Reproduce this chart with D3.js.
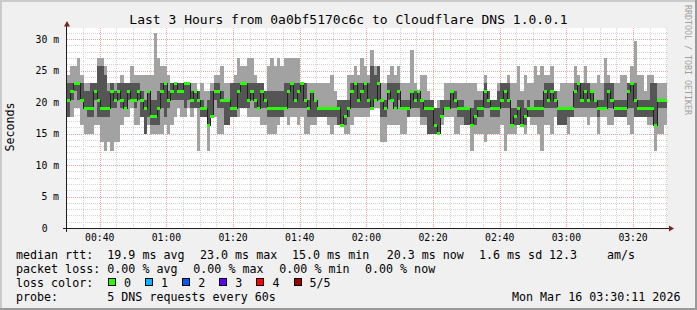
<!DOCTYPE html>
<html>
<head>
<meta charset="utf-8">
<script src="https://cdn.jsdelivr.net/npm/d3@7/dist/d3.min.js"></script>
<style>
  body { margin: 0; background: #f0f0f0; }
  svg { display: block; }
  text { font-family: "DejaVu Sans Mono", monospace; fill: #000; }
</style>
</head>
<body>
<svg id="chart" width="697" height="310"></svg>
<script>
// one value per 60s step, sorted pings in ms (5 pings per step)
var rttMax = [
  24.3,25.7,25.7,27.0,24.3,23.0,23.0,23.0,23.0,27.0,27.0,25.7,23.0,23.0,23.0,
  23.0,24.3,23.0,23.0,25.7,24.3,24.3,24.3,24.3,24.3,24.3,31.0,27.0,25.7,25.7,
  24.3,23.0,23.0,23.0,23.0,23.0,23.0,23.0,23.0,21.7,23.0,21.7,21.7,23.0,24.3,
  24.3,25.7,23.0,23.0,23.0,24.3,27.0,25.7,25.7,27.0,27.0,24.3,23.0,23.0,21.7,
  25.7,27.0,25.7,27.0,25.7,27.0,27.0,27.0,27.0,27.0,23.0,23.0,23.0,23.0,23.0,
  23.0,23.0,23.0,23.0,24.3,21.7,20.3,20.3,20.3,24.3,24.3,25.7,24.3,27.0,25.7,
  24.3,28.3,25.7,25.7,23.0,23.0,24.3,25.7,24.3,25.7,23.0,23.0,23.0,28.3,23.0,
  21.7,24.3,24.3,21.7,20.3,19.0,20.3,20.3,23.0,23.0,23.0,23.0,23.0,23.0,23.0,
  23.0,23.0,23.0,21.7,21.7,24.3,21.7,20.3,20.3,23.0,23.0,23.0,24.3,23.0,23.0,
  25.7,21.7,24.3,23.0,23.0,25.7,24.3,25.7,24.3,24.3,25.7,21.7,21.7,23.0,23.0,
  23.0,23.0,25.7,24.3,23.0,25.7,23.0,23.0,23.0,24.3,23.0,27.0,24.3,23.0,23.0,
  23.0,24.3,24.3,23.0,25.7,29.7,24.3,24.3,21.7,24.3,24.3,23.0,23.0,23.0,23.0
];
var rttP4 = [
  23.0,23.0,23.0,23.0,23.0,21.7,21.7,23.0,23.0,25.7,25.7,24.3,21.7,23.0,21.7,
  23.0,23.0,23.0,23.0,23.0,23.0,23.0,21.7,20.3,21.7,20.3,20.3,21.7,23.0,23.0,
  21.7,23.0,23.0,23.0,23.0,23.0,23.0,21.7,21.7,21.7,20.3,19.0,20.3,21.7,23.0,
  23.0,21.7,20.3,20.3,23.0,23.0,23.0,23.0,23.0,23.0,23.0,23.0,23.0,23.0,21.7,
  21.7,21.7,21.7,21.7,21.7,23.0,23.0,23.0,23.0,23.0,23.0,23.0,20.3,21.7,20.3,
  19.0,19.0,19.0,19.0,19.0,19.0,20.3,20.3,20.3,20.3,23.0,23.0,23.0,23.0,23.0,
  23.0,25.7,24.3,25.7,20.3,20.3,23.0,23.0,23.0,23.0,20.3,20.3,20.3,21.7,21.7,
  21.7,20.3,20.3,20.3,20.3,19.0,19.0,20.3,20.3,20.3,21.7,21.7,20.3,20.3,19.0,
  19.0,19.0,20.3,20.3,20.3,23.0,21.7,20.3,20.3,21.7,23.0,23.0,23.0,19.0,19.0,
  20.3,20.3,19.0,20.3,19.0,20.3,20.3,20.3,23.0,23.0,23.0,21.7,19.0,19.0,19.0,
  19.0,19.0,23.0,23.0,23.0,23.0,23.0,21.7,20.3,20.3,20.3,23.0,23.0,23.0,20.3,
  20.3,20.3,20.3,23.0,23.0,23.0,20.3,20.3,20.3,20.3,23.0,23.0,20.3,20.3,20.3
];
var rttMedian = [
  20.3,21.7,23.0,23.0,20.3,19.0,19.0,19.0,21.7,20.3,19.0,19.0,19.0,21.7,20.3,
  21.7,20.3,19.0,21.7,20.3,20.3,21.7,20.3,19.0,21.7,17.7,17.7,19.0,21.7,23.0,
  20.3,21.7,23.0,21.7,21.7,23.0,23.0,20.3,21.7,20.3,19.0,19.0,16.3,17.7,21.7,
  21.7,20.3,20.3,20.3,19.0,19.0,21.7,23.0,23.0,20.3,21.7,20.3,19.0,21.7,20.3,
  19.0,19.0,19.0,19.0,19.0,19.0,21.7,23.0,20.3,21.7,23.0,20.3,19.0,21.7,20.3,
  19.0,19.0,19.0,19.0,19.0,19.0,19.0,16.3,17.7,19.0,21.7,23.0,20.3,21.7,23.0,
  20.3,19.0,20.3,23.0,20.3,19.0,21.7,20.3,19.0,21.7,19.0,19.0,19.0,21.7,20.3,
  21.7,20.3,19.0,19.0,19.0,16.3,15.0,17.7,19.0,19.0,21.7,20.3,19.0,19.0,19.0,
  19.0,16.3,17.7,19.0,19.0,21.7,20.3,19.0,19.0,19.0,20.3,21.7,20.3,16.3,17.7,
  19.0,16.3,17.7,19.0,19.0,19.0,19.0,19.0,21.7,20.3,21.7,20.3,19.0,19.0,19.0,
  19.0,19.0,21.7,23.0,20.3,21.7,20.3,21.7,20.3,19.0,19.0,19.0,21.7,20.3,19.0,
  19.0,19.0,19.0,21.7,23.0,20.3,19.0,19.0,19.0,19.0,19.0,16.3,20.3,20.3,20.3
];
var rttP2 = [
  17.7,20.3,21.7,20.3,20.3,19.0,17.7,17.7,20.3,17.7,17.7,17.7,17.7,19.0,19.0,
  20.3,19.0,19.0,20.3,20.3,19.0,20.3,17.7,15.0,17.7,16.3,16.3,16.3,19.0,17.7,
  19.0,20.3,20.3,20.3,20.3,19.0,20.3,19.0,19.0,19.0,17.7,17.7,16.3,17.7,20.3,
  19.0,19.0,16.3,16.3,17.7,17.7,19.0,19.0,19.0,19.0,20.3,19.0,19.0,19.0,19.0,
  17.7,17.7,17.7,17.7,17.7,19.0,19.0,19.0,19.0,19.0,19.0,19.0,17.7,17.7,17.7,
  17.7,17.7,17.7,17.7,17.7,17.7,16.3,16.3,16.3,17.7,19.0,19.0,19.0,19.0,19.0,
  19.0,19.0,20.3,20.3,17.7,17.7,20.3,20.3,19.0,20.3,19.0,19.0,17.7,19.0,19.0,
  19.0,17.7,17.7,15.0,15.0,15.0,15.0,17.7,19.0,19.0,19.0,19.0,17.7,17.7,16.3,
  16.3,16.3,16.3,17.7,17.7,19.0,19.0,17.7,17.7,17.7,19.0,19.0,19.0,16.3,16.3,
  16.3,16.3,16.3,17.7,17.7,17.7,17.7,17.7,19.0,19.0,19.0,19.0,16.3,16.3,16.3,
  17.7,17.7,19.0,19.0,19.0,19.0,19.0,19.0,19.0,17.7,19.0,19.0,19.0,19.0,17.7,
  17.7,17.7,17.7,19.0,19.0,17.7,17.7,17.7,17.7,17.7,17.7,16.3,19.0,19.0,19.0
];
var rttMin = [
  17.7,17.7,19.0,19.0,16.3,15.0,15.0,15.0,16.3,16.3,13.7,12.3,13.7,12.3,13.7,
  13.7,16.3,17.7,17.7,19.0,16.3,16.3,17.7,15.0,16.3,15.0,15.0,15.0,15.0,16.3,
  15.0,16.3,17.7,19.0,17.7,17.7,19.0,17.7,19.0,12.3,17.7,17.7,12.3,17.7,17.7,
  15.0,15.0,16.3,16.3,17.7,17.7,17.7,19.0,19.0,17.7,17.7,17.7,17.7,16.3,16.3,
  15.0,15.0,15.0,16.3,17.7,17.7,16.3,17.7,17.7,16.3,17.7,15.0,15.0,16.3,16.3,
  17.7,17.7,17.7,16.3,15.0,16.3,16.3,16.3,15.0,15.0,16.3,17.7,17.7,17.7,17.7,
  17.7,19.0,19.0,19.0,13.7,13.7,16.3,16.3,16.3,16.3,15.0,15.0,17.7,17.7,17.7,
  17.7,16.3,16.3,15.0,15.0,15.0,15.0,16.3,17.7,17.7,17.7,15.0,15.0,16.3,16.3,
  16.3,12.3,15.0,15.0,15.0,13.7,15.0,15.0,15.0,15.0,16.3,12.3,15.0,15.0,15.0,
  16.3,16.3,15.0,17.7,16.3,16.3,15.0,12.3,16.3,16.3,15.0,17.7,16.3,16.3,16.3,
  15.0,17.7,17.7,17.7,17.7,17.7,16.3,17.7,17.7,15.0,17.7,17.7,16.3,16.3,17.7,
  17.7,17.7,17.7,16.3,15.0,17.7,17.7,17.7,17.7,16.3,16.3,12.3,15.0,15.0,16.3
];

var xTickLabels = ["00:40","01:00","01:20","01:40","02:00","02:20","02:40","03:00","03:20"];
var yTicks = [0, 5, 10, 15, 20, 25, 30];
var lossLevels = ["0", "1", "2", "3", "4", "5/5"];
var lossColors = ["#26ff00", "#00b8ff", "#0059ff", "#5e00ff", "#ff0000", "#a00000"];

var startTime = new Date(2026, 2, 16, 0, 30, 11);
var endTime = d3.timeMinute.offset(startTime, 180);
var steps = rttMedian.map(function(d, i){ return d3.timeMinute.offset(startTime, i); });

var W = 697, H = 310;
var plotL = 67, plotR = 667, plotT = 28, plotB = 228;

var svg = d3.select("#chart");

var x = d3.scaleTime().domain([startTime, endTime]).range([plotL, plotR]);
var y = d3.scaleLinear().domain([0, 31.75]).range([plotB, plotT]);

// background + 3d frame
svg.append("rect").attr("width", W).attr("height", H).attr("fill", "#f0f0f0");
svg.append("path").attr("d", "M0,1H697M1,0V310").attr("stroke", "#cbcbcb").attr("stroke-width", 2);
svg.append("path").attr("d", "M0,309H697M696,0V310").attr("stroke", "#999999").attr("stroke-width", 2);

svg.append("rect").attr("x", plotL).attr("y", plotT)
    .attr("width", plotR - plotL).attr("height", plotB - plotT).attr("fill", "#fff");

// grid (under the smoke)
var grid = svg.append("g").attr("shape-rendering", "crispEdges");
var minorX = x.ticks(d3.timeMinute.every(5));
var majorX = xTickLabels.map(function(s){
    var p = s.split(":");
    var t = new Date(startTime);
    t.setHours(+p[0], +p[1], 0, 0);
    return t;
});
grid.selectAll(".vminor").data(minorX).enter().append("line")
    .attr("x1", function(d){ return Math.round(x(d)) + 0.5; })
    .attr("x2", function(d){ return Math.round(x(d)) + 0.5; })
    .attr("y1", plotT).attr("y2", plotB)
    .attr("stroke", "#d4d4d4").attr("stroke-dasharray", "1,1");
grid.selectAll(".hminor").data(d3.range(1, 32)).enter().append("line")
    .attr("x1", plotL).attr("x2", plotR + 2)
    .attr("y1", function(d){ return Math.round(y(d)) + 0.5; })
    .attr("y2", function(d){ return Math.round(y(d)) + 0.5; })
    .attr("stroke", "#d4d4d4").attr("stroke-dasharray", "1,1");
grid.selectAll(".vmajor").data(majorX).enter().append("line")
    .attr("x1", function(d){ return Math.round(x(d)) + 0.5; })
    .attr("x2", function(d){ return Math.round(x(d)) + 0.5; })
    .attr("y1", plotT).attr("y2", plotB)
    .attr("stroke", "#f3a3a3").attr("stroke-dasharray", "1,1");
grid.selectAll(".hmajor").data(yTicks.slice(1)).enter().append("line")
    .attr("x1", plotL).attr("x2", plotR + 2)
    .attr("y1", function(d){ return Math.round(y(d)) + 0.5; })
    .attr("y2", function(d){ return Math.round(y(d)) + 0.5; })
    .attr("stroke", "#f3a3a3").attr("stroke-dasharray", "1,1");

// smoke
var smoke = svg.append("g").attr("shape-rendering", "crispEdges");
function band(lo, hi, color){
    smoke.append("g").selectAll("rect").data(steps).enter().append("rect")
        .attr("x", function(d){ return x(d); })
        .attr("width", function(d){ return x(d3.timeMinute.offset(d, 1)) - x(d); })
        .attr("y", function(d, i){ return y(hi[i]); })
        .attr("height", function(d, i){ return y(lo[i]) - y(hi[i]); })
        .attr("fill", color);
}
band(rttMin, rttMax, "#a2a2a2");
band(rttP2, rttP4, "#555555");

// median: dark step line + loss coloured bars
var medPts = steps.map(function(d, i){ return [x(d), y(rttMedian[i])]; });
medPts.push([x(endTime), y(rttMedian[rttMedian.length - 1])]);
svg.append("path")
    .attr("d", d3.line().curve(d3.curveStepAfter)(medPts))
    .attr("fill", "none").attr("stroke", "#202020").attr("stroke-width", 1)
    .attr("shape-rendering", "crispEdges");
svg.append("g").attr("shape-rendering", "crispEdges")
  .selectAll("rect").data(steps).enter().append("rect")
    .attr("x", function(d){ return x(d); })
    .attr("width", function(d){ return x(d3.timeMinute.offset(d, 1)) - x(d); })
    .attr("y", function(d, i){ return y(rttMedian[i]) - 1.5; })
    .attr("height", 3)
    .attr("fill", lossColors[0]);

// axes
svg.append("line").attr("x1", 63).attr("x2", 670).attr("y1", plotB + 0.5).attr("y2", plotB + 0.5)
    .attr("stroke", "#1f1f1f").attr("shape-rendering", "crispEdges");
svg.append("line").attr("x1", plotL - 0.5).attr("x2", plotL - 0.5).attr("y1", 232).attr("y2", 25)
    .attr("stroke", "#1f1f1f").attr("shape-rendering", "crispEdges");
svg.append("path").attr("d", "M64,26.5L70,26.5L67,21Z").attr("fill", "#7f1f1f");
svg.append("path").attr("d", "M669,225.5L669,231.5L674,228.5Z").attr("fill", "#7f1f1f");

svg.selectAll(".xl").data(majorX).enter().append("text")
    .attr("x", function(d){ return x(d); }).attr("y", 240.5)
    .attr("text-anchor", "middle").attr("font-size", "9.75px")
    .text(function(d, i){ return xTickLabels[i]; });

svg.selectAll(".yl").data(yTicks).enter().append("text")
    .attr("x", function(d){ return d === 0 ? 47.5 : 59; })
    .attr("y", function(d){ return y(d) + 3.5; })
    .attr("text-anchor", "end").attr("font-size", "9.75px")
    .text(function(d){ return d === 0 ? "0" : d + " m"; });

svg.append("text").attr("transform", "translate(14,127) rotate(-90)")
    .attr("text-anchor", "middle").attr("font-size", "11.66px").text("Seconds");

svg.append("text").attr("x", 348.5).attr("y", 23.5).attr("text-anchor", "middle")
    .attr("font-size", "13px").text("Last 3 Hours from 0a0bf5170c6c to Cloudflare DNS 1.0.0.1");

svg.append("text").attr("transform", "translate(685,5) rotate(90)")
    .attr("font-size", "8.3px").style("fill", "#a0a0a0").text("RRDTOOL / TOBI OETIKER");

// legend
var legendRows = [
    [[16, "median rtt:"], [107.3, "19.9 ms avg"], [200, "23.0 ms max"], [292, "15.0 ms min"],
     [386.7, "20.3 ms now"], [479, "1.6 ms sd"], [549, "12.3"], [607, "am/s"]],
    [[16, "packet loss:"], [107.3, "0.00 % avg"], [193.3, "0.00 % max"], [279.3, "0.00 % min"], [365, "0.00 % now"]],
    [[16, "loss color:"]],
    [[16, "probe:"], [107.3, "5 DNS requests every 60s"], [512, "Mon Mar 16 03:30:11 2026"]]
];
legendRows.forEach(function(row, r){
    svg.append("g").selectAll("text").data(row).enter().append("text")
        .attr("x", function(d){ return d[0]; })
        .attr("y", 258.5 + r * 14)
        .attr("font-size", "11.66px")
        .text(function(d){ return d[1]; });
});
var lg = svg.append("g").selectAll("g").data(lossLevels).enter().append("g")
    .attr("transform", function(d, i){ return "translate(" + (108 + i * 37.1) + ",0)"; });
lg.append("rect").attr("x", 0.5).attr("y", 278.5).attr("width", 7).attr("height", 7)
    .attr("fill", function(d, i){ return lossColors[i]; })
    .attr("stroke", "#000").attr("shape-rendering", "crispEdges");
lg.append("text").attr("x", 16).attr("y", 286.5).attr("font-size", "11.66px")
    .text(function(d){ return d; });
</script>
</body>
</html>
